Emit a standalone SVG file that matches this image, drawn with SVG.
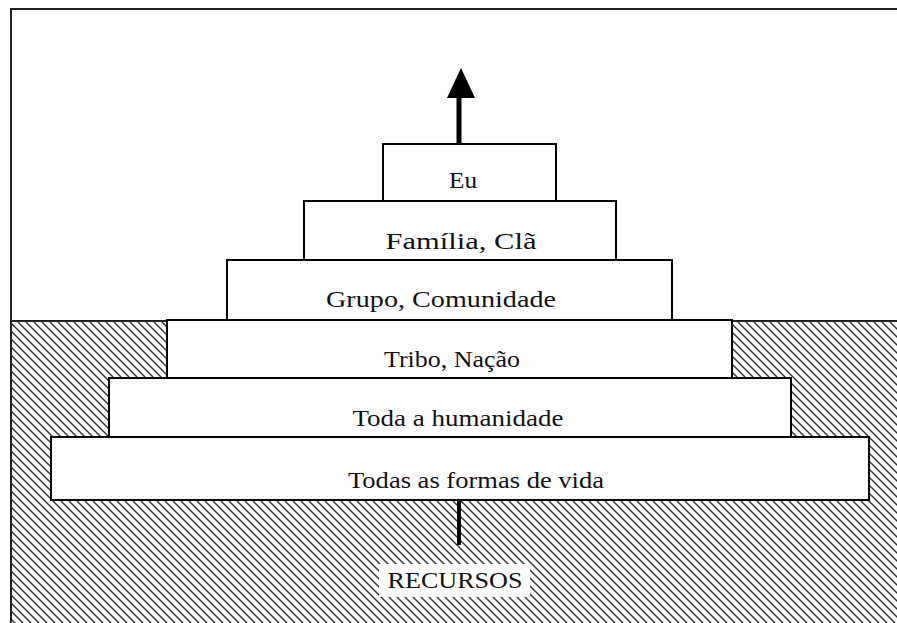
<svg xmlns="http://www.w3.org/2000/svg" width="897" height="623" viewBox="0 0 897 623">
<defs>
<pattern id="hatch" patternUnits="userSpaceOnUse" width="8" height="8">
<path d="M-1,-1 L9,9 M-5,3 L5,13 M3,-5 L13,5" stroke="#333" stroke-width="1.4"/>
</pattern>
</defs>
<style>
.box{fill:#fff;stroke:#000;stroke-width:2}
.lbl{font-family:'Liberation Serif','Times New Roman',serif;font-size:23px;fill:#111;text-anchor:middle}
.frame{stroke:#222;stroke-width:2;fill:none}
</style>
<rect width="897" height="623" fill="#fff"/>
<g id="ground">
<rect x="11" y="321" width="886" height="302" fill="url(#hatch)"/>
<path class="frame" d="M11,321 H897"/>
</g>
<path class="frame" d="M11,623 V9 H897"/>
<g id="connectors">
<line x1="459" y1="144" x2="459" y2="96" stroke="#000" stroke-width="5"/>
<polygon points="447,98 475,98 461,68" fill="#000"/>
<line x1="459" y1="500" x2="459" y2="545" stroke="#000" stroke-width="4"/>
</g>
<g id="n6"><rect class="box" x="51" y="437" width="818" height="63"/><text class="lbl" x="476" y="488" textLength="256" lengthAdjust="spacingAndGlyphs">Todas as formas de vida</text></g>
<g id="n5"><rect class="box" x="109" y="378" width="682" height="59"/><text class="lbl" x="458" y="426" textLength="211" lengthAdjust="spacingAndGlyphs">Toda a humanidade</text></g>
<g id="n4"><rect class="box" x="167" y="320" width="565" height="58"/><text class="lbl" x="452" y="367" textLength="136" lengthAdjust="spacingAndGlyphs">Tribo, Nação</text></g>
<g id="n3"><rect class="box" x="227" y="260" width="445" height="60"/><text class="lbl" x="441" y="307" textLength="230" lengthAdjust="spacingAndGlyphs">Grupo, Comunidade</text></g>
<g id="n2"><rect class="box" x="304" y="201" width="312" height="59"/><text class="lbl" x="461" y="249" textLength="151" lengthAdjust="spacingAndGlyphs">Família, Clã</text></g>
<g id="n1"><rect class="box" x="383" y="144" width="173" height="57"/><text class="lbl" x="463" y="188" textLength="28" lengthAdjust="spacingAndGlyphs">Eu</text></g>
<g id="recursos"><rect x="379" y="564" width="151" height="33" fill="#fff"/><text class="lbl" x="455" y="588" textLength="135" lengthAdjust="spacingAndGlyphs">RECURSOS</text></g>
</svg>
